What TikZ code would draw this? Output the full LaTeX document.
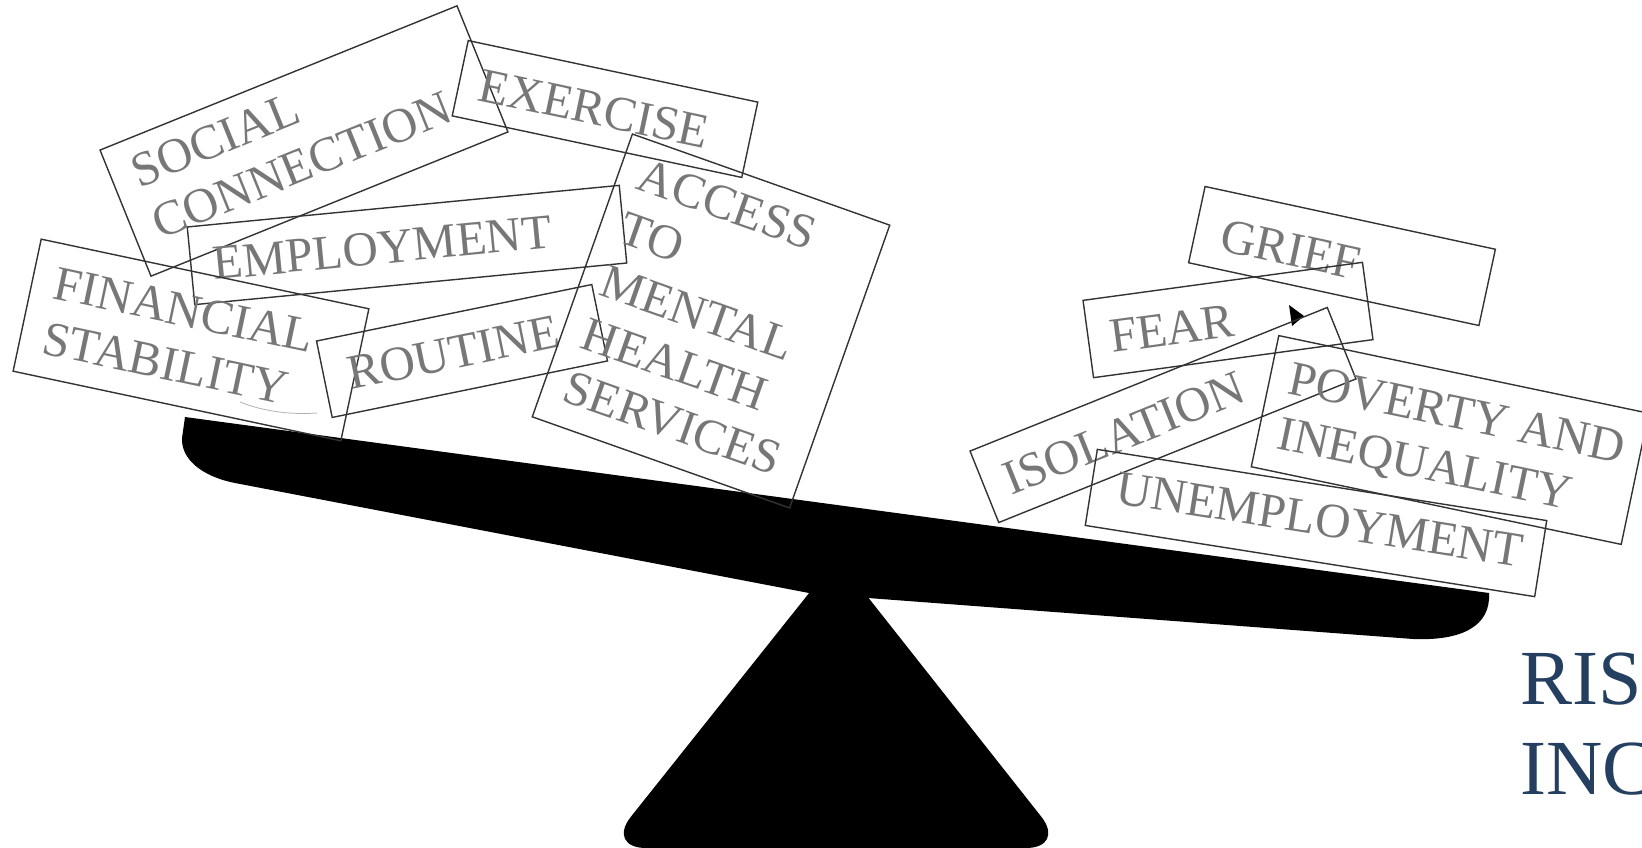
\documentclass[tikz,border=0pt]{standalone}
\usepackage{fontspec}
\setmainfont{Liberation Serif}
\usepackage{tikz}
\usetikzlibrary{positioning}
\definecolor{tagink}{HTML}{777777}
\definecolor{tagedge}{HTML}{333333}
\definecolor{risknavy}{HTML}{243F60}

\begin{document}
\begin{tikzpicture}[
  x=1pt, y=-1pt,
  tagbox/.style={
    rectangle, draw=tagedge, line width=1.4pt, inner sep=0pt
  },
  tagtext/.style={
    text=tagink, font=\fontsize{49}{56}\selectfont,
    inner sep=0pt, anchor=base west, align=left
  },
  risktext/.style={
    text=risknavy, font=\fontsize{78}{90}\selectfont,
    inner sep=0pt, anchor=base west, align=left
  }
]

\useasboundingbox (0,0) rectangle (1642,848);
\clip (0,0) rectangle (1642,848);

% Fulcrum
\fill (837,558) [rounded corners=40pt] -- (1066,848) -- (606,848) [sharp corners] -- cycle;

% Beam
\fill (185,417) -- (1489,593)
  .. controls (1491,626) and (1462,641) .. (1413,639)
  -- (868,598) -- (809,593) -- (235,483)
  .. controls (200,476) and (181,458) .. (182,438) -- cycle;

% ===== Left side: protective factors =====
% (multi-line labels sit on the baseline of their last line)
\node[tagbox, minimum width=385, minimum height=136, rotate=22] (social) at (304,141) {};
\node[tagtext, rotate=22] (socialtxt) at (160,240) {SOCIAL\\CONNECTION};

\node[tagbox, minimum width=434, minimum height=78, rotate=5.5] (employ) at (407,245) {};
\node[tagtext, rotate=5.5] (employtxt) at (214,280) {EMPLOYMENT};

\node[tagbox, minimum width=335, minimum height=135, rotate=-12] (finance) at (191,340) {};
\node[tagtext, rotate=-12] (financetxt) at (40,353) {FINANCIAL\\STABILITY};
\draw[gray!60, line width=0.8pt] (240,402) .. controls (262,411) and (290,415) .. (317,413);

\node[tagbox, minimum width=281, minimum height=78, rotate=11.6] (routine) at (462,351) {};
\node[tagtext, rotate=11.6] (routinetxt) at (351,390) {ROUTINE};

\node[tagbox, minimum width=296, minimum height=77, rotate=-12] (exercise) at (605,109) {};
\node[tagtext, rotate=-12] (exercisetxt) at (476,100) {EXERCISE};

\node[tagbox, minimum width=273, minimum height=300, rotate=-19.5] (access) at (711,321) {};
\node[tagtext, rotate=-19.5] (accesstxt) at (560,400) {ACCESS\\TO\\MENTAL\\HEALTH\\SERVICES};

% ===== Right side: risk factors =====
\node[tagbox, minimum width=297, minimum height=78, rotate=-12.2] (grief) at (1342,256) {};
\node[tagtext, rotate=-12.2] (grieftxt) at (1218,250) {GRIEF};

\node[tagbox, minimum width=282, minimum height=78, rotate=7.75] (fear) at (1228,320) {};
\node[tagtext, rotate=7.75] (feartxt) at (1112,353) {FEAR};
\fill (1289,305) -- (1304,316) -- (1292,326) -- cycle;

\node[tagbox, minimum width=385, minimum height=77, rotate=21.9] (isolation) at (1163,415) {};
\node[tagtext, rotate=21.9] (isolationtxt) at (1011,496) {ISOLATION};

\node[tagbox, minimum width=378, minimum height=134, rotate=-11.85] (poverty) at (1450,440) {};
\node[tagtext, rotate=-11.85] (povertytxt) at (1275,448) {POVERTY AND\\INEQUALITY};

\node[tagbox, minimum width=455, minimum height=77, rotate=-9] (unemploy) at (1316,523) {};
\node[tagtext, rotate=-9] (unemploytxt) at (1114,503) {UNEMPLOYMENT};

% Title, cut at the right edge
\node[risktext] (risk) at (1520,794) {RIS\\INC};

\end{tikzpicture}
\end{document}
